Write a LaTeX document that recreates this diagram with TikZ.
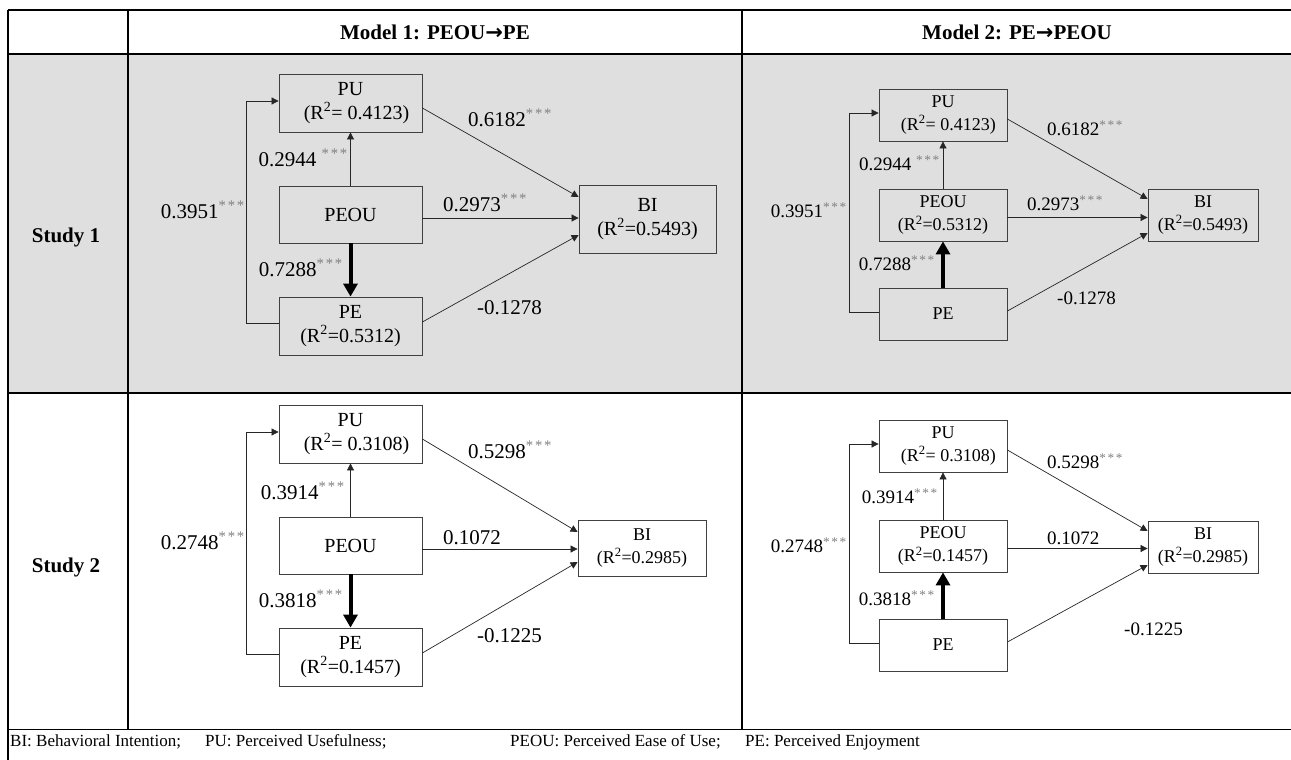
\documentclass[tikz,border=0pt]{standalone}
\usepackage{fontspec}
\setmainfont{Liberation Serif}
\newfontfamily\arrowfont{DejaVu Sans}
\usetikzlibrary{arrows.meta}
\definecolor{rowgray}{HTML}{DFDFDF}
\definecolor{stargray}{HTML}{808080}
\definecolor{boxline}{HTML}{404040}
\newcommand\stars{\textsuperscript{\color{stargray}*\kern0.12em*\kern0.12em*}}
\newcommand\fsz[2]{\fontsize{#1}{#2}\selectfont}
\newcommand\rsq{R\textsuperscript{2}}
\newcommand\harrow{{\arrowfont\bfseries\char"2192}}

\begin{document}
\begin{tikzpicture}[x=1pt,y=-1pt,
  boxA/.style={draw=boxline,line width=0.8pt,inner sep=0pt,align=center,
    minimum width=143pt,font=\fsz{20}{24}},
  boxB/.style={draw=boxline,line width=0.8pt,inner sep=0pt,align=center,
    minimum width=128pt,minimum height=52pt,font=\fsz{18}{22.5}},
  labA/.style={inner sep=0pt,font=\fsz{21}{24}},
  labB/.style={inner sep=0pt,font=\fsz{19}{22}},
  link/.style={draw=black!85,line width=0.7pt,-{Triangle[length=7pt,width=7pt]}},
  heavy/.style={draw=black,line width=4pt,-{Triangle[length=13pt,width=14pt]}},
  rule/.style={line width=1.8pt},
  vrule/.style={line width=1.5pt},
  hdr/.style={inner sep=0pt,font=\fsz{21}{25}\bfseries},
  foot/.style={inner sep=0pt,anchor=west,font=\fsz{17}{20}}]
\useasboundingbox (0,0) rectangle (1291,760);

% shaded row of Study 1
\fill[rowgray] (8,54) rectangle (1292,393);

% table rules
\draw[rule] (8,10) -- (1292,10);
\draw[rule] (8,54) -- (1292,54);
\draw[rule] (8,393) -- (1292,393);
\draw[line width=1pt] (8,729) -- (1292,729);
\draw[vrule] (8,10) -- (8,760);
\draw[vrule] (128,10) -- (128,729);
\draw[vrule] (742,10) -- (742,729);

% column and row headings
\node[hdr] (h1) at (435,32) {Model 1: PEOU\harrow PE};
\node[hdr] (h2) at (1017,32) {Model 2: PE\harrow PEOU};
\node[hdr] (s1) at (66,237) {Study 1};
\node[hdr] (s2) at (66,567) {Study 2};

% ---------- Study 1, Model 1 ----------
\node[boxA,minimum height=58pt] (a1pu) at (350.5,103) {PU\\\hspace*{0.6em}(\rsq= 0.4123)};
\node[boxA,minimum height=57pt] (a1peou) at (350.5,214.5) {PEOU};
\node[boxA,minimum height=58pt] (a1pe) at (350.5,326) {PE\\(\rsq=0.5312)};
\node[boxA,minimum width=137pt,minimum height=68pt] (a1bi) at (647.5,219) {BI\\(\rsq=0.5493)};
\draw[link] (a1peou.north) -- (a1pu.south);
\draw[heavy] (a1peou.south) -- (a1pe.north);
\draw[link] ([yshift=3pt]a1pe.west) -- ++(-32,0) |- ([yshift=2pt]a1pu.west);
\draw[link] ([yshift=-5pt]a1pu.east) -- ([yshift=22pt]a1bi.west);
\draw[link] ([yshift=-3.5pt]a1peou.east) -- ([yshift=-3.5pt]a1peou.east -| a1bi.west);
\draw[link] ([yshift=4pt]a1pe.east) -- ([yshift=-16pt]a1bi.west);
\node[labA,anchor=west] (a1l1) at (468,118) {0.6182\stars};
\node[labA,anchor=east] (a1l2) at (348,158) {0.2944 \stars};
\node[labA,anchor=east] (a1l3) at (245,210) {0.3951\stars};
\node[labA,anchor=east] (a1l4) at (343,268) {0.7288\stars};
\node[labA,anchor=west] (a1l5) at (443,203) {0.2973\stars};
\node[labA,anchor=west] (a1l6) at (477,308) {-0.1278};

% ---------- Study 1, Model 2 ----------
\node[boxB] (b1pu) at (943,115) {PU\\\hspace*{0.6em}(\rsq= 0.4123)};
\node[boxB] (b1peou) at (943,215) {PEOU\\(\rsq=0.5312)};
\node[boxB] (b1pe) at (943,314) {PE};
\node[boxB,minimum width=110pt] (b1bi) at (1203,215) {BI\\(\rsq=0.5493)};
\draw[link] (b1peou.north) -- (b1pu.south);
\draw[heavy] (b1pe.north) -- (b1peou.south);
\draw[link] ([yshift=2pt]b1pe.west) -- ++(-29,0) |- ([yshift=2pt]b1pu.west);
\draw[link] ([yshift=-4pt]b1pu.east) -- ([yshift=16pt]b1bi.west);
\draw[link] ([yshift=-2.5pt]b1peou.east) -- ([yshift=-2.5pt]b1peou.east -| b1bi.west);
\draw[link] ([yshift=3pt]b1pe.east) -- ([yshift=-18pt]b1bi.west);
\node[labB,anchor=west] (b1l1) at (1047,128) {0.6182\stars};
\node[labB,anchor=east] (b1l2) at (940,163) {0.2944 \stars};
\node[labB,anchor=east] (b1l3) at (847,210) {0.3951\stars};
\node[labB,anchor=east] (b1l4) at (935,263) {0.7288\stars};
\node[labB,anchor=west] (b1l5) at (1027,203) {0.2973\stars};
\node[labB,anchor=west] (b1l6) at (1057,298) {-0.1278};

% ---------- Study 2, Model 1 ----------
\node[boxA,minimum height=58pt] (a2pu) at (350.5,434) {PU\\\hspace*{0.6em}(\rsq= 0.3108)};
\node[boxA,minimum height=57pt] (a2peou) at (350.5,545.5) {PEOU};
\node[boxA,minimum height=58pt] (a2pe) at (350.5,657) {PE\\(\rsq=0.1457)};
\node[boxA,minimum width=128pt,minimum height=56pt,font=\fsz{18}{22.5}] (a2bi) at (642,548) {BI\\(\rsq=0.2985)};
\draw[link] (a2peou.north) -- (a2pu.south);
\draw[heavy] (a2peou.south) -- (a2pe.north);
\draw[link] ([yshift=3pt]a2pe.west) -- ++(-32,0) |- ([yshift=2pt]a2pu.west);
\draw[link] ([yshift=-5pt]a2pu.east) -- ([yshift=16pt]a2bi.west);
\draw[link] ([yshift=-3.5pt]a2peou.east) -- ([yshift=-3.5pt]a2peou.east -| a2bi.west);
\draw[link] ([yshift=4pt]a2pe.east) -- ([yshift=-14pt]a2bi.west);
\node[labA,anchor=west] (a2l1) at (468,450) {0.5298\stars};
\node[labA,anchor=east] (a2l2) at (345,491) {0.3914\stars};
\node[labA,anchor=east] (a2l3) at (245,541) {0.2748\stars};
\node[labA,anchor=west] (a2l4) at (443,538) {0.1072};
\node[labA,anchor=east] (a2l5) at (343,599) {0.3818\stars};
\node[labA,anchor=west] (a2l6) at (477,636) {-0.1225};

% ---------- Study 2, Model 2 ----------
\node[boxB] (b2pu) at (943,446) {PU\\\hspace*{0.6em}(\rsq= 0.3108)};
\node[boxB] (b2peou) at (943,546) {PEOU\\(\rsq=0.1457)};
\node[boxB] (b2pe) at (943,645) {PE};
\node[boxB,minimum width=110pt] (b2bi) at (1203,547) {BI\\(\rsq=0.2985)};
\draw[link] (b2peou.north) -- (b2pu.south);
\draw[heavy] (b2pe.north) -- (b2peou.south);
\draw[link] ([yshift=2pt]b2pe.west) -- ++(-29,0) |- ([yshift=2pt]b2pu.west);
\draw[link] ([yshift=-4pt]b2pu.east) -- ([yshift=16pt]b2bi.west);
\draw[link] ([yshift=-2.5pt]b2peou.east) -- ([yshift=-2.5pt]b2peou.east -| b2bi.west);
\draw[link] ([yshift=3pt]b2pe.east) -- ([yshift=-18pt]b2bi.west);
\node[labB,anchor=west] (b2l1) at (1047,461) {0.5298\stars};
\node[labB,anchor=east] (b2l2) at (938,496) {0.3914\stars};
\node[labB,anchor=east] (b2l3) at (847,545) {0.2748\stars};
\node[labB,anchor=west] (b2l4) at (1047,538) {0.1072};
\node[labB,anchor=east] (b2l5) at (935,598) {0.3818\stars};
\node[labB,anchor=west] (b2l6) at (1124,629) {-0.1225};

% legend of abbreviations
\node[foot] (f1) at (10,742) {BI: Behavioral Intention;};
\node[foot] (f2) at (205,742) {PU: Perceived Usefulness;};
\node[foot] (f3) at (510,742) {PEOU: Perceived Ease of Use;};
\node[foot] (f4) at (745,742) {PE: Perceived Enjoyment};
\end{tikzpicture}
\end{document}
